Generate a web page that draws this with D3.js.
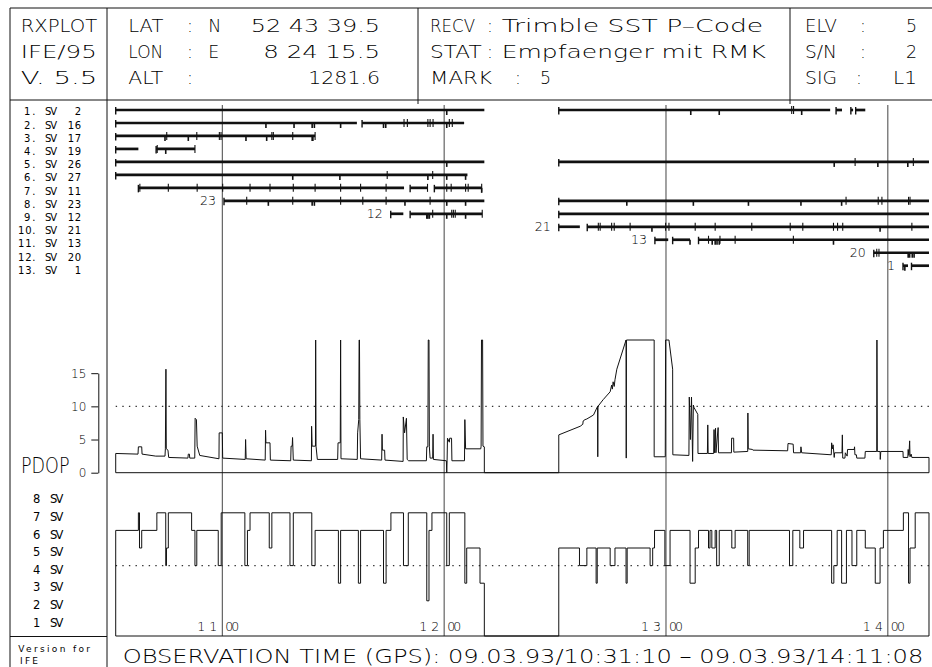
<!DOCTYPE html>
<html>
<head>
<meta charset="utf-8">
<script src="https://cdn.jsdelivr.net/npm/d3@7"></script>
<style>
  html, body { margin: 0; padding: 0; background: #fff; }
  svg { display: block; }
  text { font-family: "DejaVu Sans", sans-serif; font-weight: 200; fill: #000; }
  text.small { font-weight: 400; }
</style>
</head>
<body>
<svg id="chart" width="932" height="667"></svg>
<script>
// ---------------- header fields ----------------
const headerLeft = ["RXPLOT", "IFE/95", "V. 5.5"];
const positionKeys = ["LAT", "LON", "ALT"];
const positionHemi = ["N", "E", ""];
const positionValues = ["52 43 39.5", "8 24 15.5", "1281.6"];
const receiverKeys = ["RECV", "STAT", "MARK"];
const receiverValues = ["Trimble SST P–Code", "Empfaenger mit RMK", "5"];
const settingKeys = ["ELV", "S/N", "SIG"];
const settingValues = ["5", "2", "L1"];
const footerText = "OBSERVATION TIME (GPS): 09.03.93/10:31:10 – 09.03.93/14:11:08";

// ---------------- time axis (minutes after 10:00 GPS) ----------------
const timeStart = 31 + 10 / 60;        // 10:31:10
const timeEnd = 251 + 8 / 60;          // 14:11:08
const hourTicks = [60, 120, 180, 240];
const hourLabels = ["11", "12", "13", "14"];

// ---------------- satellite tracking ----------------
const svIds = [2, 16, 17, 19, 26, 27, 11, 23, 12, 21, 13, 20, 1];
const svLabelled = [23, 12, 21, 13, 20, 1];
// continuous tracking arcs [from, to]
const svSegments = [
  [[31.17, 130.87], [151.0, 224.4], [226.0, 227.6], [230.0, 230.6], [231.3, 233.9]],
  [[31.17, 96.4], [97.8, 125.4]],
  [[31.17, 85.1]],
  [[31.17, 37.3], [42.1, 52.6]],
  [[31.17, 130.87], [151.0, 251.13]],
  [[31.17, 126.3]],
  [[37.3, 109.15], [110.8, 115.5], [117.35, 130.15]],
  [[60.46, 130.87], [151.0, 251.13]],
  [[105.55, 108.96], [110.8, 130.3], [151.0, 251.13]],
  [[151.0, 156.7], [158.7, 251.13]],
  [[177.0, 180.6], [181.8, 186.5], [188.8, 251.13]],
  [[236.2, 251.13]],
  [[244.1, 245.45], [246.4, 251.13]]
];
// re-acquisitions (full ticks)
const svMarks = [
  [214.0, 214.5],
  [109.15, 110.05, 115.6, 116.2, 117.0, 121.4, 122.2],
  [44.97, 53.1, 59.2, 59.65, 73.4, 73.8, 79.05, 85.1],
  [42.4, 52.6],
  [231.15, 246.9],
  [104.6, 116.9],
  [37.7, 45.4, 53.2, 60.1, 67.5, 72.9, 79.2, 85.1, 92.0, 97.4, 104.3, 115.5, 120.7, 121.9, 125.8, 126.5, 130.15],
  [66.6, 79.05, 92.0, 98.0, 104.3, 116.2, 228.7, 237.4, 238.4, 245.6, 246.0],
  [116.9, 122.05, 122.5, 123.0, 130.3],
  [161.7, 162.2, 165.3, 166.0, 170.3, 179.9, 180.8, 187.9, 193.3, 203.2, 213.6, 217.0, 225.3, 226.4, 227.8, 246.5],
  [191.5, 194.6, 198.7, 214.45],
  [237.0, 237.6],
  []
];
// cycle slips (short ticks below the arc)
const svSlips = [
  [120.7, 186.7, 194.4, 216.7],
  [71.8, 79.4, 84.3, 84.9, 92.0, 103.6, 104.2, 120.7],
  [44.5, 50.8, 66.4, 72.0, 84.3, 84.5],
  [44.7],
  [120.7, 225.5, 237.3, 245.4],
  [79.05, 91.8, 115.6, 120.7, 125.8],
  [130.15],
  [72.45, 84.3, 84.9, 109.4, 120.7, 125.8, 169.4, 187.4, 202.3, 216.5, 227.5],
  [115.3, 115.6, 116.0, 120.7, 125.8],
  [176.2, 237.9],
  [186.5, 192.5, 193.3, 193.8, 194.4, 225.3],
  [245.5, 245.9, 246.6, 247.1],
  [244.6]
];

// ---------------- PDOP [time, value] ----------------
const pdopTicks = [0, 5, 10, 15];
const pdopLimit = 10;
const pdopMax = 20;
const pdop = [
  [31.17, 0], [31.17, 2.9], [37.2, 2.8], [37.3, 3.9], [38.2, 3.9], [38.3, 2.8], [42.0, 2.5], [44.5, 2.5],
  [44.6, 3.6], [44.75, 15.6], [44.85, 3.6], [45.3, 3.4], [45.5, 2.3],
  [50.7, 2.2], [50.8, 2.8], [51.1, 2.8], [51.2, 2.2], [52.55, 2.2], [52.65, 8.2], [53.0, 8.0], [53.2, 4.0], [53.9, 2.6],
  [59.1, 2.1], [59.15, 6.0], [60.0, 6.0], [60.1, 2.2],
  [66.2, 2.0], [66.3, 5.0], [66.45, 2.1],
  [71.6, 1.9], [71.7, 6.4], [71.8, 4.5], [72.9, 4.5], [73.0, 1.9],
  [78.5, 1.8], [78.6, 4.0], [78.9, 4.0], [79.0, 5.3], [79.2, 1.9],
  [84.1, 1.8], [84.15, 7.0], [84.3, 4.0], [85.2, 4.0], [85.25, 20], [85.35, 4.0], [85.7, 2.0],
  [91.2, 2.0], [91.3, 4.5], [91.9, 4.5], [92.0, 20], [92.1, 2.1],
  [96.5, 2.0], [96.6, 6.0], [96.9, 8.0], [97.0, 20], [97.1, 20], [97.2, 8.0], [97.4, 2.1],
  [103.1, 1.9], [103.2, 5.8], [103.3, 3.4], [103.9, 3.4], [104.0, 1.9],
  [108.9, 1.7], [108.95, 8.4], [109.3, 6.0], [109.8, 8.2], [110.0, 2.0], [110.4, 1.8],
  [115.2, 1.8], [115.3, 3.9], [115.6, 3.9], [115.7, 20], [115.9, 20], [116.0, 3.9], [116.2, 2.2],
  [116.9, 2.2], [117.0, 5.8], [117.1, 2.0],
  [120.6, 1.8], [120.7, 0], [120.8, 1.8], [120.9, 5.2], [121.4, 4.6], [121.5, 5.2], [122.0, 5.2], [122.1, 1.8],
  [125.5, 1.8], [125.6, 8.0], [125.8, 3.6], [129.9, 3.6], [130.0, 4.0], [130.1, 20], [130.4, 20], [130.5, 4.0],
  [130.87, 3.9], [130.87, 0],
  [151.0, 0], [151.0, 5.7], [156.8, 7.0], [157.5, 7.3], [157.6, 7.8], [158.1, 8.0], [158.6, 8.1], [160.4, 8.7],
  [161.5, 10.0], [161.55, 2.4], [161.6, 10.0], [163.0, 11.0], [164.9, 12.2], [165.3, 13.2], [165.5, 12.6],
  [165.7, 13.7], [166.0, 13.0], [166.2, 14.0], [166.7, 15.6], [169.2, 20], [169.25, 2.2], [169.3, 20],
  [176.8, 20], [176.8, 2.4], [179.8, 2.4], [179.9, 20], [180.8, 20], [181.8, 15.6], [181.85, 2.7],
  [186.2, 2.6], [186.3, 11.4], [186.6, 5.0], [186.9, 11.4], [187.2, 1.7], [187.4, 10.2], [187.6, 9.8],
  [188.6, 8.8], [188.65, 2.9],
  [191.2, 2.9], [191.3, 7.2], [191.4, 2.9], [192.9, 2.9], [193.0, 6.5], [193.1, 3.0], [193.4, 6.7], [193.5, 3.0],
  [194.1, 6.8], [194.2, 3.0],
  [197.7, 3.0], [197.75, 5.2], [198.3, 5.2], [198.35, 3.1],
  [202.1, 3.2], [202.15, 9.0], [202.25, 3.6], [203.4, 3.5], [203.5, 3.4],
  [212.9, 3.3], [213.0, 4.4], [214.4, 4.3], [214.5, 3.0], [216.4, 3.0], [216.5, 3.9], [216.7, 3.0],
  [224.7, 2.7], [224.8, 4.5], [225.0, 3.6], [225.2, 4.2], [225.5, 2.3], [225.6, 3.0], [227.6, 3.0], [227.7, 5.7],
  [227.8, 2.2], [228.4, 2.2], [228.5, 3.0], [229.0, 2.5], [229.1, 3.5], [230.9, 3.5], [231.0, 3.9], [231.1, 2.7],
  [231.5, 2.7], [231.6, 2.2], [233.8, 2.2], [233.9, 3.2],
  [237.0, 3.2], [237.05, 20], [237.15, 3.2], [237.9, 3.2], [237.95, 2.0], [238.1, 3.2], [244.1, 3.2], [244.15, 2.3],
  [245.4, 2.3], [245.5, 3.5], [245.7, 2.6], [245.9, 4.8], [246.0, 2.4], [246.3, 2.8], [246.5, 2.3],
  [251.13, 2.3], [251.13, 0]
];

// ---------------- number of tracked satellites [time, count] ----------------
const countLevels = [1, 2, 3, 4, 5, 6, 7, 8];
const countLimit = 4;
const svCount = [
  [31.17, 0], [31.17, 6], [37.3, 7], [37.6, 5], [38.2, 6], [42.3, 7], [44.7, 4], [44.9, 5], [45.4, 7],
  [51.7, 6], [52.6, 4], [53.1, 6], [58.9, 4], [59.7, 7], [66.1, 4], [66.8, 6], [67.5, 7], [72.7, 5],
  [73.4, 7], [78.3, 4], [79.2, 7], [84.2, 4], [85.1, 6], [91.4, 3], [92.0, 6], [96.8, 3], [97.4, 6],
  [103.6, 3], [104.3, 6], [105.6, 7], [109.0, 4], [110.3, 7], [115.3, 2], [115.9, 6], [116.7, 7],
  [120.7, 4], [121.4, 7], [125.6, 3], [126.1, 5], [129.7, 3], [130.87, 0],
  [151.0, 5], [156.6, 4], [158.6, 5], [161.1, 3], [161.4, 5], [164.9, 4], [166.2, 5], [169.2, 3], [169.5, 5],
  [175.7, 4], [176.4, 5], [176.9, 6], [179.7, 4], [181.1, 6], [186.5, 3], [187.9, 5], [188.8, 6],
  [191.5, 5], [191.9, 6], [192.4, 5], [193.3, 6], [193.7, 4], [194.4, 6], [197.8, 5], [198.7, 6],
  [202.1, 4], [202.5, 6], [213.4, 4], [214.3, 6], [216.2, 5], [217.2, 6], [224.8, 3], [225.4, 4],
  [226.3, 6], [227.5, 3], [228.8, 6], [230.3, 4], [231.6, 6], [233.9, 5], [236.6, 3], [237.9, 5],
  [238.8, 6], [244.2, 7], [245.6, 3], [246.0, 5], [247.4, 7], [251.13, 0]
];

// ================= drawing =================
const svg = d3.select("#chart");
const ink = "#111";

const x = d3.scaleLinear().domain([timeStart, timeEnd]).range([115.7, 929]);
const yRow = d3.scalePoint().domain(d3.range(svIds.length)).range([110, 265.7]);
const yPdop = d3.scaleLinear().domain([0, pdopMax]).range([472.7, 340]).clamp(true);
const yCount = d3.scaleLinear().domain([0, 8]).range([636, 495.2]);

// plotter-style lettering: wide glyphs are stretched to their measured run length,
// small labels only get their spacing widened
function put(g, s, px, py, size, opts = {}) {
  const t = g.append("text")
    .attr("x", px).attr("y", py)
    .attr("font-size", size)
    .attr("text-anchor", opts.anchor || "start")
    .text(s);
  if (opts.width) t.attr("textLength", opts.width)
    .attr("lengthAdjust", opts.spread || opts.small ? "spacing" : "spacingAndGlyphs");
  if (opts.small) t.attr("class", "small");
  return t;
}
function rule(g, x1, y1, x2, y2, w = 1, col = ink) {
  g.append("line").attr("x1", x1).attr("y1", y1).attr("x2", x2).attr("y2", y2)
    .attr("stroke", col).attr("stroke-width", w);
}

// ---- frame ----
const frame = svg.append("g");
rule(frame, 10, 8, 932, 8);
rule(frame, 10, 100, 932, 100);
rule(frame, 10, 8, 10, 667);
rule(frame, 107, 8, 107, 667);
rule(frame, 418, 8, 418, 104);
rule(frame, 790, 8, 790, 104);
rule(frame, 10, 636.5, 107, 636.5);

// ---- header ----
const head = svg.append("g");
const rowBase = [31.5, 57.5, 83.5];
const hs = 17.4;
const leftWidths = [76.6, 76, 76.6];
headerLeft.forEach((s, i) => put(head, s, 20.7, rowBase[i], hs, { width: leftWidths[i] }));
const posValWidths = [129.3, 116.7, 71.7];
positionKeys.forEach((k, i) => {
  put(head, k, 128.3, rowBase[i], hs, { width: 35 });
  put(head, ":", 187, rowBase[i], hs);
  if (positionHemi[i]) put(head, positionHemi[i], 208.3, rowBase[i], hs);
  put(head, positionValues[i], 380, rowBase[i], hs, { anchor: "end", width: posValWidths[i] });
});
const recKeyWidths = [45, 51.7, 62];
const recColon = [487, 487, 515];
const recValX = [501.7, 501.7, 540];
const recValWidths = [261.6, 264.3, null];
receiverKeys.forEach((k, i) => {
  put(head, k, 430, rowBase[i], hs, { width: recKeyWidths[i] });
  put(head, ":", recColon[i], rowBase[i], hs);
  put(head, receiverValues[i], recValX[i], rowBase[i], hs, recValWidths[i] ? { width: recValWidths[i] } : {});
});
const setColon = [860, 860, 856];
const setValWidths = [null, null, 24];
settingKeys.forEach((k, i) => {
  put(head, k, 805, rowBase[i], hs, { width: 32 });
  put(head, ":", setColon[i], rowBase[i], hs);
  put(head, settingValues[i], 917, rowBase[i], hs, setValWidths[i] ? { anchor: "end", width: setValWidths[i] } : { anchor: "end" });
});

// ---- hour grid ----
const grid = svg.append("g");
hourTicks.forEach((h, i) => {
  rule(grid, x(h), 105, x(h), 636, 1, "#444");
  put(grid, hourLabels[i], x(h) - 5, 630.5, 12.5, { anchor: "end", width: 20, spread: true });
  put(grid, "00", x(h) + 3, 630.5, 12.5, { width: 14, spread: true });
});

// ---- satellite arcs ----
const arcs = svg.append("g");
svIds.forEach((id, i) => {
  const y = yRow(i);
  const ly = 115.3 + 13.2 * i;
  const lab = String(i + 1) + ".";
  put(arcs, lab, 35.5, ly, 10, { anchor: "end", width: lab.length * 5.8, small: true });
  put(arcs, "SV", 45, ly, 10, { width: 12, small: true });
  put(arcs, String(id), 81, ly, 10, { anchor: "end", width: String(id).length * 6.6, small: true });

  svSegments[i].forEach(([a, b]) => {
    arcs.append("line").attr("x1", x(a)).attr("x2", x(b)).attr("y1", y).attr("y2", y)
      .attr("stroke", ink).attr("stroke-width", 2.7);
    rule(arcs, x(a), y - 3, x(a), y + 4.5, 1.4);
  });
  svMarks[i].forEach(t => rule(arcs, x(t), y - 4, x(t), y + 4, 1.1));
  svSlips[i].forEach(t => rule(arcs, x(t), y, x(t), y + 5, 1.6));
  if (svLabelled.includes(id)) {
    put(arcs, String(id), x(svSegments[i][0][0]) - 8, y + 4.5, 12, { anchor: "end", width: String(id).length * 8 });
  }
});

// ---- PDOP panel ----
const pg = svg.append("g");
const yAxisScale = yPdop.copy().domain([0, 15]).range([yPdop(0), yPdop(15)]).clamp(false);
const axisG = pg.append("g").attr("transform", "translate(98.3,0)")
  .call(d3.axisLeft(yAxisScale).tickValues(pdopTicks).tickSize(7).tickSizeOuter(0).tickFormat(d3.format("d")));
axisG.selectAll("path, line").attr("stroke", ink).attr("stroke-width", 1);
axisG.selectAll("text").attr("font-size", 12).attr("x", -12).attr("dy", "0.35em")
  .attr("font-family", "DejaVu Sans").attr("font-weight", 200).attr("fill", "#000");
put(pg, "PDOP", 21, 472.7, 21, { width: 48.5 });

pg.append("line").attr("x1", x(timeStart)).attr("x2", x(timeEnd))
  .attr("y1", yPdop(pdopLimit)).attr("y2", yPdop(pdopLimit))
  .attr("stroke", "#333").attr("stroke-width", 1.4).attr("stroke-dasharray", "1.4 5.2");
rule(pg, x(timeStart), yPdop(0), x(timeEnd), yPdop(0), 1);
pg.append("path").datum(pdop)
  .attr("d", d3.line().x(d => x(d[0])).y(d => yPdop(d[1])))
  .attr("fill", "none").attr("stroke", ink).attr("stroke-width", 1);

// ---- satellite count panel ----
const cg = svg.append("g");
countLevels.forEach(n => {
  put(cg, String(n), 36.7, yCount(n) + 8.2, 11.5, { anchor: "middle", small: true });
  put(cg, "SV", 50, yCount(n) + 8.2, 11.5, { width: 13.3, small: true });
});
cg.append("line").attr("x1", x(timeStart)).attr("x2", x(timeEnd))
  .attr("y1", yCount(countLimit)).attr("y2", yCount(countLimit))
  .attr("stroke", "#333").attr("stroke-width", 1.4).attr("stroke-dasharray", "1.4 5.2");
rule(cg, x(timeStart), yCount(0), x(timeEnd), yCount(0), 1);
cg.append("path").datum(svCount)
  .attr("d", d3.line().x(d => x(d[0])).y(d => yCount(d[1])).curve(d3.curveStepAfter))
  .attr("fill", "none").attr("stroke", ink).attr("stroke-width", 1);

// ---- footer ----
const foot = svg.append("g");
put(foot, "Version for", 18.3, 651.7, 9, { width: 71.7, small: true });
put(foot, "IFE", 20, 664, 9, { width: 18, small: true });
put(foot, footerText, 122.7, 662.7, 19.6, { width: 800.6 });
</script>
</body>
</html>
